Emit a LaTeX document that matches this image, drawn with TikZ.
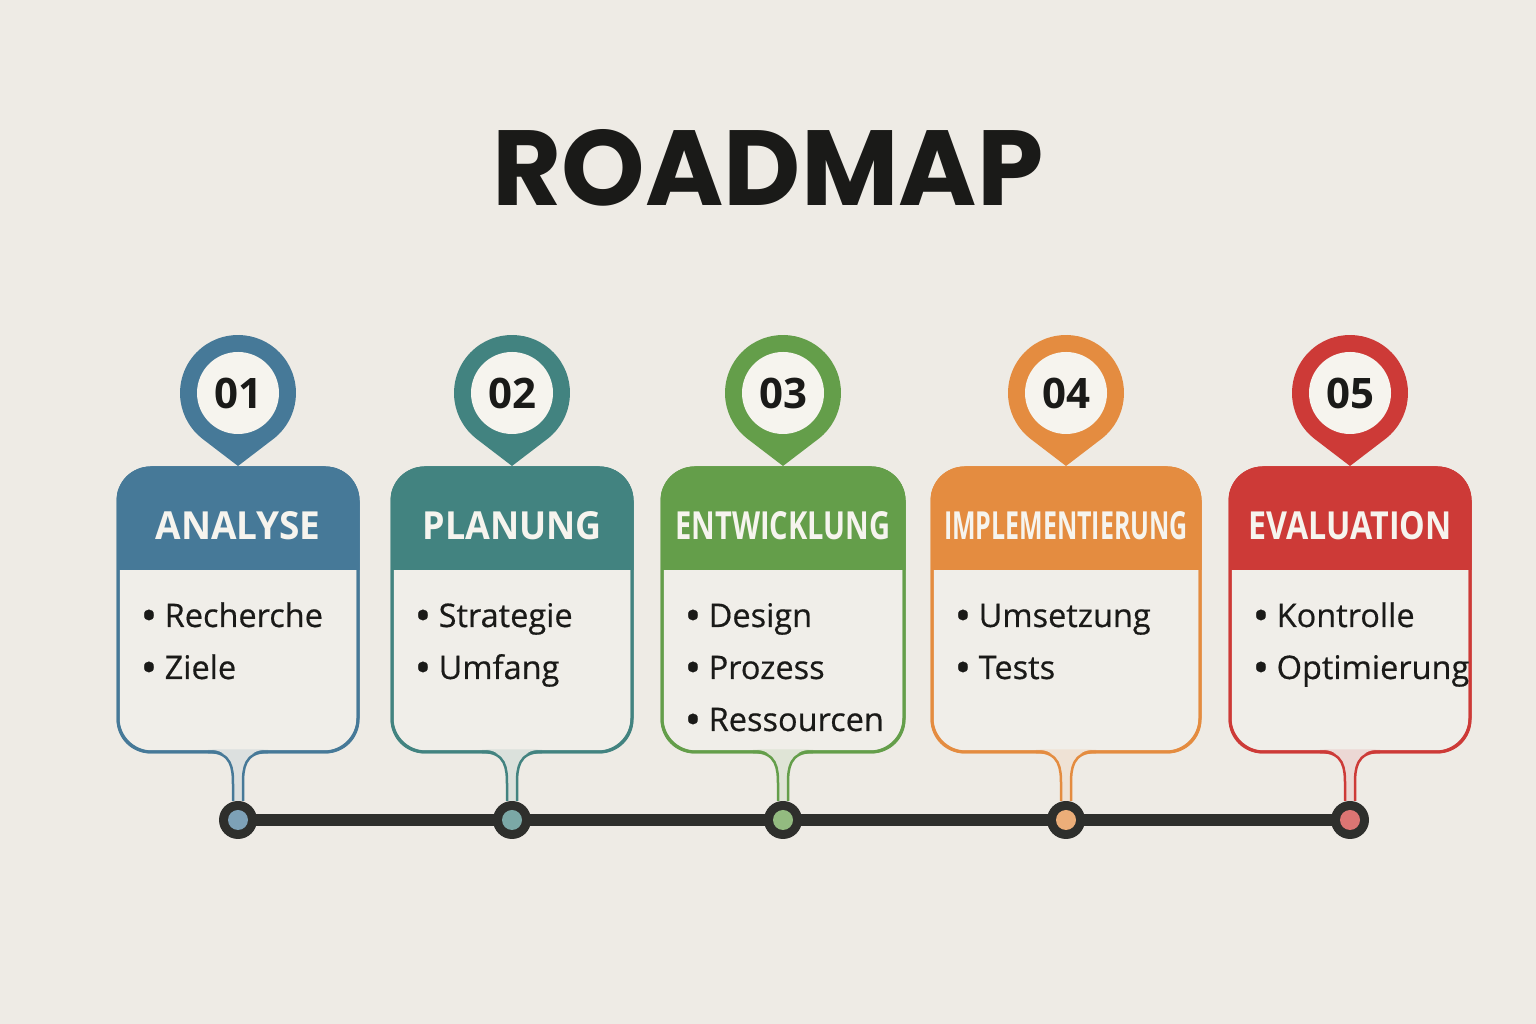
\documentclass[tikz,border=0pt]{standalone}
\usepackage{fontspec}
\setmainfont{Open Sans}
\newfontfamily\titelfont{Poppins}
\newfontfamily\listenfont{Open Sans}[FakeBold=0.5]
\usepackage{graphicx}
\usetikzlibrary{positioning, calc, backgrounds}
\definecolor{papier}{RGB}{238,235,229}
\definecolor{karte}{RGB}{240,238,233}
\definecolor{dunkel}{RGB}{46,47,44}
\definecolor{schrift}{RGB}{26,26,24}
\definecolor{hell}{RGB}{246,244,238}
\definecolor{blau}{RGB}{70,121,152}
\definecolor{petrol}{RGB}{66,131,128}
\definecolor{gruen}{RGB}{100,158,74}
\definecolor{orangeton}{RGB}{228,140,64}
\definecolor{rotton}{RGB}{205,58,55}

\tikzset{
  karte/.style={draw=#1, line width=3pt, fill=karte, rounded corners=34pt, inner sep=0pt},
  pinkreis/.style={circle, fill=hell, minimum size=82pt, inner sep=0pt, text=schrift,
    font=\fontsize{42}{42}\selectfont\bfseries},
  punktknoten/.style={circle, fill=dunkel, minimum size=38pt, inner sep=0pt},
  eintrag/.style={anchor=base west, inner sep=0pt, text=schrift, font=\listenfont\fontsize{32.5}{40}\selectfont}
}

\begin{document}
\begin{tikzpicture}[x=1pt, y=1pt] % 1 Einheit = 1 Pixel

\useasboundingbox (0,0) rectangle (1536,1024);

% Titel
\node[inner sep=0pt, text=schrift] (titel) at (768,856) {\resizebox{550pt}{76pt}{\titelfont\bfseries ROADMAP}};

% Phasen: Nummer/Mitte/Breite/Farbe/Titel/Titelbreite/Punkte
\foreach \i/\cx/\breite/\farbe/\titel/\tb/\punkte in {
  1/238/240/blau/ANALYSE/165/{Recherche,Ziele},
  2/512/240/petrol/PLANUNG/179/{Strategie,Umfang},
  3/783/242/gruen/ENTWICKLUNG/215/{Design,Prozess,Ressourcen},
  4/1066/268/orangeton/IMPLEMENTIERUNG/244/{Umsetzung,Tests},
  5/1350/240/rotton/EVALUATION/203/{Kontrolle,Optimierung}} {
  % Karte
  \node[karte=\farbe, minimum width=\breite pt, minimum height=284pt] (card\i) at (\cx,414) {};
  \begin{scope}
    \clip[rounded corners=34pt] (card\i.south west) rectangle (card\i.north east);
    \fill[\farbe] (card\i.north west) rectangle ($(card\i.north east)+(0,-104)$);
  \end{scope}
  \draw[\farbe, line width=3pt, rounded corners=32.5pt] ($(card\i.south west)+(1.5,1.5)$) rectangle ($(card\i.north east)+(-1.5,-1.5)$);
  \node[inner sep=0pt, text=hell] (kopf\i) at (\cx,498) {\resizebox{\tb pt}{28pt}{\bfseries \titel}};
  % Stichpunkte
  \foreach \punkt [count=\j] in \punkte {
    \node[eintrag] (punkt\i-\j) at ($(card\i.west)+(24,{397-414-52*(\j-1)})$)
      {\makebox[24pt][l]{\raisebox{-4pt}{\scalebox{1.35}{\textbullet}}}\punkt};
  }
  % Pin mit Nummer
  \fill[\farbe] (\cx,558) -- ($(\cx,631)+(-51.6:58)$) arc[start angle=-51.6, end angle=231.6, radius=58] -- cycle;
  \node[pinkreis] (pin\i) at (\cx,631) {0\i};
  % Punkt auf der Zeitleiste
  \node[punktknoten] (dot\i) at (\cx,204) {};
  \fill[\farbe!70!white] (dot\i.center) circle (10);
  % Verbindung Karte -> Zeitleiste
  \fill[\farbe!12!karte] ($(card\i.south)+(-30,4)$) .. controls +(24,0) and +(0,16) .. ($(card\i.south)+(-5,-31)$)
    -- ($(dot\i.north)+(-5,0)$) -- ($(dot\i.north)+(5,0)$) -- ($(card\i.south)+(5,-31)$)
    .. controls +(0,16) and +(-24,0) .. ($(card\i.south)+(30,4)$) -- cycle;
  \draw[\farbe, line width=2.5pt] ($(card\i.south)+(-30,1.5)$) .. controls +(24,0) and +(0,16) .. ($(card\i.south)+(-5,-31)$) -- ($(dot\i.north)+(-5,0)$);
  \draw[\farbe, line width=2.5pt] ($(card\i.south)+(30,1.5)$) .. controls +(-24,0) and +(0,16) .. ($(card\i.south)+(5,-31)$) -- ($(dot\i.north)+(5,0)$);
}

% Hintergrund und Zeitleiste
\begin{scope}[on background layer]
  \fill[papier] (0,0) rectangle (1536,1024);
  \draw[dunkel, line width=12pt] (dot1.center) -- (dot5.center);
\end{scope}

\end{tikzpicture}
\end{document}
